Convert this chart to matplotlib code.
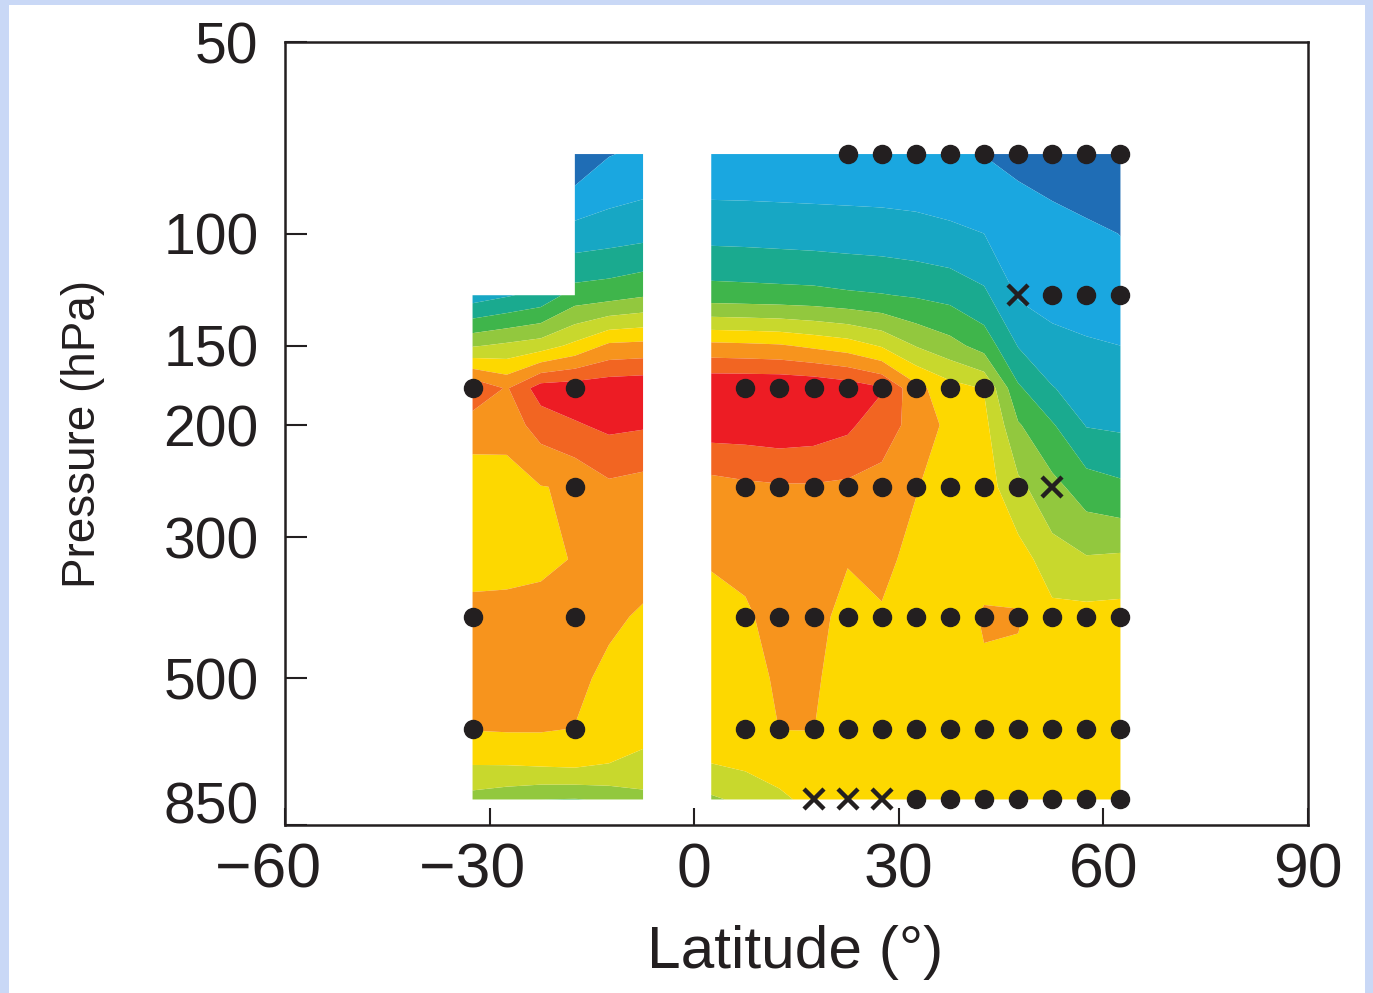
import numpy as np
import matplotlib
matplotlib.use("Agg")
import matplotlib.pyplot as plt
from matplotlib import font_manager
from matplotlib.ticker import NullLocator
from matplotlib.patches import Rectangle

# ---------------- data ----------------
latitudes = [-32.5, -27.5, -22.5, -17.5, -12.5, -7.5, -2.5, 2.5, 7.5, 12.5, 17.5,
             22.5, 27.5, 32.5, 37.5, 42.5, 47.5, 52.5, 57.5, 62.5]
pressure_levels = [75, 100, 125, 150, 175, 200, 250, 325, 400, 500, 600, 700, 775]
nan = np.nan

# field value (contour-band units) at each pressure level, one entry per latitude
z_075 = [nan, nan, nan, 1.2, 1.95, 2.2, nan, 2.2, 2.2, 2.2, 2.2, 2.2, 2.2, 2.2, 2.1, 1.98, 1.8, 1.5, 1.1, 0.8]
z_100 = [nan, nan, nan, 3.4, 3.55, 3.7, nan, 3.68, 3.65, 3.6, 3.55, 3.5, 3.45, 3.35, 3.2, 3.0, 2.45, 2.4, 2.25, 1.98]
z_125 = [3.5, 3.9, 4.3, 5.45, 5.6, 5.9, nan, 5.45, 5.4, 5.35, 5.3, 5.15, 5.05, 4.9, 4.7, 4.2, 2.9, 2.6, 2.6, 2.5]
z_150 = [6.9, 7.2, 7.5, 8.25, 9.2, 9.3, nan, 9.27, 9.2, 9.1, 8.8, 8.5, 7.9, 6.95, 6.35, 5.6, 3.95, 3.35, 3.1, 3.0]
z_175 = [10.9, 9.9, 11.5, 11.6, 11.7, 11.8, nan, 12.0, 12.0, 12.0, 11.9, 11.6, 11.1, 9.3, 8.4, 7.95, 5.15, 4.05, 3.55, 3.45]
z_200 = [9.4, 9.5, 10.4, 10.9, 11.2, 11.1, nan, 11.5, 11.5, 11.6, 11.5, 11.2, 10.4, 9.7, 8.7, 8.3, 6.1, 5.1, 3.95, 3.85]
z_250 = [8.5, 8.4, 8.97, 9.1, 9.8, 9.6, nan, 9.6, 9.8, 9.9, 9.9, 9.8, 9.7, 9.05, 8.6, 8.5, 7.25, 6.3, 5.5, 5.2]
z_325 = [8.7, 8.7, 8.8, 9.05, 9.4, 9.3, nan, 9.06, 9.25, 9.6, 9.5, 9.05, 9.25, 8.7, 8.5, 8.65, 8.45, 7.45, 7.1, 7.2]
z_400 = [9.25, 9.3, 9.35, 9.3, 9.15, 8.9, nan, 8.75, 8.85, 9.4, 9.3, 8.7, 8.9, 8.55, 8.5, 9.1, 9.1, 8.3, 8.35, 8.4]
z_500 = [9.3, 9.35, 9.4, 9.2, 8.8, 8.5, nan, 8.45, 8.5, 9.2, 9.15, 8.5, 8.6, 8.5, 8.45, 8.85, 8.7, 8.4, 8.35, 8.35]
z_600 = [9.05, 9.1, 9.1, 8.98, 8.4, 8.25, nan, 8.2, 8.25, 9.02, 9.02, 8.4, 8.45, 8.4, 8.35, 8.45, 8.4, 8.35, 8.3, 8.3]
z_700 = [7.8, 7.8, 7.85, 7.9, 7.9, 7.7, nan, 7.95, 8.0, 8.3, 8.5, 8.3, 8.3, 8.3, 8.3, 8.3, 8.3, 8.3, 8.25, 8.25]
z_775 = [6.6, 6.3, 6.0, 5.95, 6.1, 6.6, nan, 6.8, 7.3, 7.8, 8.3, 8.2, 8.2, 8.25, 8.25, 8.25, 8.25, 8.25, 8.2, 8.2]

band_levels = [-5, 2, 3, 4, 5, 6, 7, 8, 9, 10, 11, 20]
band_colors = ['#1f6db5', '#1aa7e0', '#17a7c4', '#1aaa8f', '#3fb54b', '#92c83e',
               '#c8d82d', '#fdd800', '#f7941d', '#f26522', '#ed1c24']

# observation markers
dots_075 = [22.5, 27.5, 32.5, 37.5, 42.5, 47.5, 52.5, 57.5, 62.5]
dots_125 = [52.5, 57.5, 62.5]
dots_175 = [-32.5, -17.5, 7.5, 12.5, 17.5, 22.5, 27.5, 32.5, 37.5, 42.5]
dots_250 = [-17.5, 7.5, 12.5, 17.5, 22.5, 27.5, 32.5, 37.5, 42.5, 47.5]
dots_400 = [-32.5, -17.5, 7.5, 12.5, 17.5, 22.5, 27.5, 32.5, 37.5, 42.5, 47.5, 52.5, 57.5, 62.5]
dots_600 = [-32.5, -17.5, 7.5, 12.5, 17.5, 22.5, 27.5, 32.5, 37.5, 42.5, 47.5, 52.5, 57.5, 62.5]
dots_775 = [32.5, 37.5, 42.5, 47.5, 52.5, 57.5, 62.5]
cross_125 = [47.5]
cross_250 = [52.5]
cross_775 = [17.5, 22.5, 27.5]

y_ticks = [50, 100, 150, 200, 300, 500, 850]
x_ticks = [-60, -30, 0, 30, 60, 90]

# ---------------- fonts ----------------
main_font = ['Liberation Sans', 'DejaVu Sans']
plt.rcParams['font.family'] = main_font

# ---------------- figure ----------------
W, H = 1373, 993
fig = plt.figure(figsize=(W / 100, H / 100), dpi=100)
fig.patch.set_facecolor('#c9d8f6')
fig.patches.append(Rectangle((9 / W, 0), (W - 17) / W, (H - 5) / H,
                             transform=fig.transFigure, facecolor='white',
                             edgecolor='none', zorder=-10))

ax = fig.add_axes([285 / W, (H - 825) / H, (1308 - 285) / W, (825 - 42) / H])
ax.set_zorder(2)
ax.set_facecolor('none')

Z = np.ma.masked_invalid(np.array([z_075, z_100, z_125, z_150, z_175, z_200, z_250,
                                   z_325, z_400, z_500, z_600, z_700, z_775]))
ax.contourf(latitudes, pressure_levels, Z, levels=band_levels, colors=band_colors,
            corner_mask=False, antialiased=True)

dot_style = dict(marker='o', color='#231f20', markersize=13, linestyle='none',
                 clip_on=False, zorder=5)
cross_style = dict(marker='x', color='#231f20', markersize=15, markeredgewidth=3.2,
                   linestyle='none', clip_on=False, zorder=5)
for p, lats in [(75, dots_075), (125, dots_125), (175, dots_175), (250, dots_250),
                (400, dots_400), (600, dots_600), (775, dots_775)]:
    ax.plot(lats, [p] * len(lats), **dot_style)
for p, lats in [(125, cross_125), (250, cross_250), (775, cross_775)]:
    ax.plot(lats, [p] * len(lats), **cross_style)

ax.set_yscale('log')
ax.set_xlim(-60, 90)
ax.set_ylim(850, 50)
ax.yaxis.set_minor_locator(NullLocator())
ax.set_yticks(y_ticks, [str(t) if t != 850 else '' for t in y_ticks])
# negative labels: digits centred on the tick, minus sign hanging to the left
ax.set_xticks(x_ticks, [f'\u2212{-t}\u2007' if t < 0 else str(t) for t in x_ticks])

for s in ax.spines.values():
    s.set_linewidth(1.8)
    s.set_color('#231f20')
ax.tick_params(axis='y', direction='in', length=16, width=1.5, pad=19,
               labelsize=41, colors='#231f20')
ax.tick_params(axis='x', direction='in', length=12, width=1.5, pad=12,
               labelsize=45, colors='#231f20')
ax.annotate('850', xy=(0, 850), xycoords=('axes fraction', 'data'),
            xytext=(-19, 12), textcoords='offset points', ha='right', va='center',
            fontsize=41, color='#231f20', annotation_clip=False)

ax.set_xlabel('Latitude (°)', fontsize=43.5, color='#231f20')
ax.xaxis.set_label_coords(0.4985, -0.128)
ax.set_ylabel('Pressure (hPa)', fontsize=33, color='#231f20')
ax.yaxis.set_label_coords(-0.176, 0.5)

fig.savefig('out.png', dpi=100, facecolor=fig.get_facecolor())
